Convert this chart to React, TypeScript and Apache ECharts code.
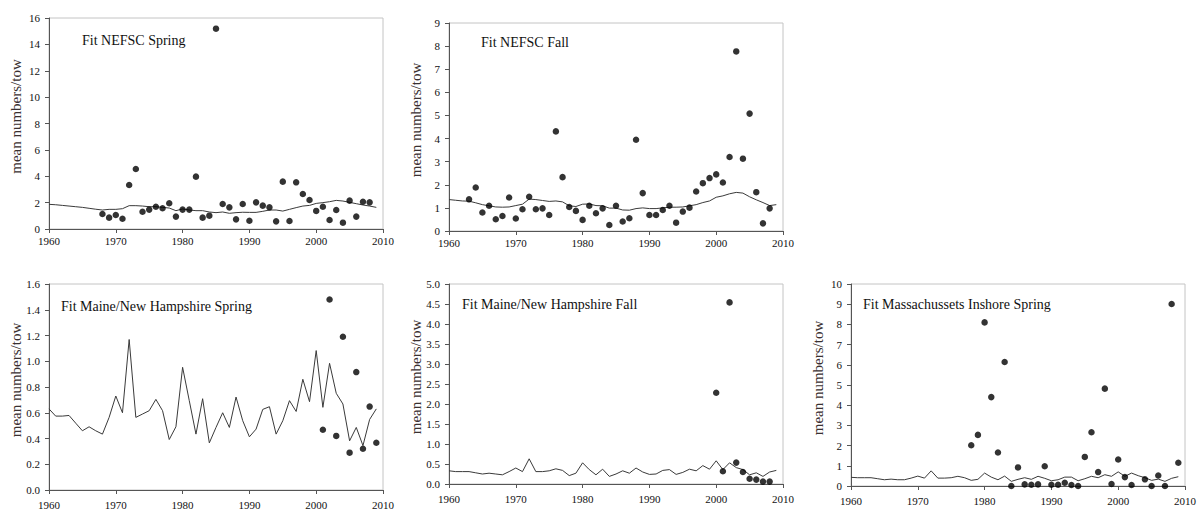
import React, { useEffect, useRef } from "react";
import * as echarts from "echarts";

// Years covered by the model fit lines
const fitYears = [
  1960, 1961, 1962, 1963, 1964, 1965, 1966, 1967, 1968, 1969,
  1970, 1971, 1972, 1973, 1974, 1975, 1976, 1977, 1978, 1979,
  1980, 1981, 1982, 1983, 1984, 1985, 1986, 1987, 1988, 1989,
  1990, 1991, 1992, 1993, 1994, 1995, 1996, 1997, 1998, 1999,
  2000, 2001, 2002, 2003, 2004, 2005, 2006, 2007, 2008, 2009,
];

// NEFSC spring survey
const nefscSpringFit = [
  1.87, 1.84, 1.79, 1.74, 1.69, 1.64, 1.57, 1.5, 1.44, 1.49,
  1.49, 1.54, 1.77, 1.77, 1.74, 1.69, 1.69, 1.64, 1.59, 1.39,
  1.52, 1.44, 1.39, 1.39, 1.29, 1.24, 1.29, 1.19, 1.24, 1.27,
  1.26, 1.26, 1.34, 1.44, 1.44, 1.36, 1.49, 1.62, 1.74, 1.79,
  1.94, 2.0, 2.07, 2.17, 2.12, 2.02, 1.92, 1.82, 1.74, 1.64,
];
const nefscSpringObsYears = [
  1968, 1969, 1970, 1971, 1972, 1973, 1974, 1975, 1976, 1977,
  1978, 1979, 1980, 1981, 1982, 1983, 1984, 1985, 1986, 1987,
  1988, 1989, 1990, 1991, 1992, 1993, 1994, 1995, 1996, 1997,
  1998, 1999, 2000, 2001, 2002, 2003, 2004, 2005, 2006, 2007, 2008,
];
const nefscSpringObs = [
  1.14, 0.86, 1.06, 0.78, 3.34, 4.55, 1.31, 1.47, 1.69, 1.57,
  1.95, 0.94, 1.47, 1.47, 3.97, 0.86, 1.01, 15.19, 1.9, 1.64,
  0.73, 1.9, 0.63, 2.02, 1.77, 1.64, 0.58, 3.59, 0.61, 3.54,
  2.65, 2.2, 1.37, 1.69, 0.68, 1.44, 0.48, 2.15, 0.94, 2.07, 2.02,
];

// NEFSC fall survey
const nefscFallFit = [
  1.36, 1.33, 1.3, 1.29, 1.22, 1.14, 1.09, 1.04, 1.03, 1.04,
  1.1, 1.16, 1.38, 1.36, 1.32, 1.28, 1.3, 1.26, 1.09, 1.06,
  1.16, 1.17, 1.1, 1.09, 0.99, 0.99, 0.91, 0.9, 0.97, 1.0,
  0.97, 0.97, 1.0, 1.03, 1.03, 1.04, 1.09, 1.14, 1.23, 1.3,
  1.46, 1.52, 1.61, 1.67, 1.64, 1.48, 1.35, 1.23, 1.1, 1.14,
];
const nefscFallObsYears = [
  1963, 1964, 1965, 1966, 1967, 1968, 1969, 1970, 1971, 1972,
  1973, 1974, 1975, 1976, 1977, 1978, 1979, 1980, 1981, 1982,
  1983, 1984, 1985, 1986, 1987, 1988, 1989, 1990, 1991, 1992,
  1993, 1994, 1995, 1996, 1997, 1998, 1999, 2000, 2001, 2002,
  2003, 2004, 2005, 2006, 2007, 2008,
];
const nefscFallObs = [
  1.37, 1.88, 0.8, 1.09, 0.51, 0.65, 1.45, 0.54, 0.94, 1.48,
  0.94, 0.98, 0.69, 4.31, 2.33, 1.04, 0.87, 0.48, 1.09, 0.77,
  0.98, 0.26, 1.09, 0.41, 0.55, 3.95, 1.64, 0.69, 0.69, 0.91,
  1.09, 0.36, 0.84, 1.01, 1.71, 2.07, 2.29, 2.45, 2.1, 3.2,
  7.77, 3.13, 5.08, 1.68, 0.33, 0.98,
];

// Maine/New Hampshire spring survey
const mnhSpringFit = [
  0.63, 0.574, 0.574, 0.579, 0.519, 0.46, 0.491, 0.46, 0.434, 0.564,
  0.73, 0.6, 1.169, 0.564, 0.59, 0.616, 0.704, 0.616, 0.392, 0.491,
  0.953, 0.694, 0.434, 0.709, 0.366, 0.486, 0.6, 0.486, 0.722, 0.538,
  0.413, 0.473, 0.626, 0.647, 0.434, 0.538, 0.694, 0.61, 0.86, 0.686,
  1.083, 0.642, 0.984, 0.751, 0.668, 0.382, 0.486, 0.345, 0.548, 0.63,
];
const mnhSpringObsYears = [2001, 2002, 2003, 2004, 2005, 2006, 2007, 2008, 2009];
const mnhSpringObs = [0.468, 1.48, 0.42, 1.19, 0.29, 0.916, 0.32, 0.648, 0.367];

// Maine/New Hampshire fall survey
const mnhFallFit = [
  0.33, 0.31, 0.31, 0.31, 0.28, 0.25, 0.27, 0.25, 0.23, 0.31,
  0.4, 0.31, 0.63, 0.31, 0.31, 0.33, 0.38, 0.34, 0.21, 0.27,
  0.53, 0.36, 0.23, 0.37, 0.19, 0.25, 0.33, 0.27, 0.4, 0.3,
  0.24, 0.25, 0.34, 0.36, 0.24, 0.29, 0.37, 0.33, 0.46, 0.37,
  0.58, 0.36, 0.53, 0.41, 0.36, 0.23, 0.28, 0.19, 0.3, 0.34,
];
const mnhFallObsYears = [2000, 2001, 2002, 2003, 2004, 2005, 2006, 2007, 2008];
const mnhFallObs = [2.28, 0.32, 4.54, 0.535, 0.3, 0.13, 0.11, 0.06, 0.06];

// Massachusetts inshore spring survey
const maSpringFit = [
  0.43, 0.41, 0.41, 0.41, 0.36, 0.31, 0.34, 0.31, 0.31, 0.39,
  0.49, 0.39, 0.75, 0.39, 0.39, 0.41, 0.48, 0.41, 0.28, 0.33,
  0.64, 0.44, 0.31, 0.49, 0.23, 0.33, 0.41, 0.33, 0.48, 0.38,
  0.26, 0.31, 0.44, 0.44, 0.26, 0.36, 0.48, 0.41, 0.56, 0.48,
  0.7, 0.48, 0.64, 0.51, 0.41, 0.28, 0.34, 0.23, 0.38, 0.46,
];
const maSpringObsYears = [
  1978, 1979, 1980, 1981, 1982, 1983, 1984, 1985, 1986, 1987,
  1988, 1989, 1990, 1991, 1992, 1993, 1994, 1995, 1996, 1997,
  1998, 1999, 2000, 2001, 2002, 2004, 2005, 2006, 2007, 2008, 2009,
];
const maSpringObs = [
  2.02, 2.53, 8.1, 4.4, 1.66, 6.14, 0.0, 0.92, 0.08, 0.06,
  0.08, 0.98, 0.06, 0.06, 0.16, 0.05, 0.0, 1.44, 2.66, 0.69,
  4.82, 0.1, 1.31, 0.44, 0.05, 0.33, 0.0, 0.52, 0.0, 9.01, 1.15,
];

const panelTitles = [
  "Fit NEFSC Spring",
  "Fit NEFSC Fall",
  "Fit Maine/New Hampshire Spring",
  "Fit Maine/New Hampshire Fall",
  "Fit Massachussets Inshore Spring",
];
const yMax = [16, 9, 1.6, 5, 10];
const yStep = [2, 1, 0.2, 0.5, 1];
const yDecimals = [0, 0, 1, 1, 0];
const yAxisName = "mean numbers/tow";

const FONT = "'Liberation Serif', 'Times New Roman', serif";

type Panel = {
  grid: { left: number; top: number; width: number; height: number };
  labelMargin: number;
  titlePos: [number, number];
  fit: number[];
  obsYears: number[];
  obs: number[];
};

const panels: Panel[] = [
  {
    grid: { left: 49, top: 18, width: 334, height: 211 },
    labelMargin: 6,
    titlePos: [82, 41],
    fit: nefscSpringFit,
    obsYears: nefscSpringObsYears,
    obs: nefscSpringObs,
  },
  {
    grid: { left: 449, top: 23, width: 334, height: 208 },
    labelMargin: 6,
    titlePos: [481, 43],
    fit: nefscFallFit,
    obsYears: nefscFallObsYears,
    obs: nefscFallObs,
  },
  {
    grid: { left: 49, top: 284, width: 334, height: 206 },
    labelMargin: 9,
    titlePos: [61, 307],
    fit: mnhSpringFit,
    obsYears: mnhSpringObsYears,
    obs: mnhSpringObs,
  },
  {
    grid: { left: 449, top: 284, width: 334, height: 200 },
    labelMargin: 9,
    titlePos: [462, 305],
    fit: mnhFallFit,
    obsYears: mnhFallObsYears,
    obs: mnhFallObs,
  },
  {
    grid: { left: 851, top: 284, width: 337, height: 202 },
    labelMargin: 9,
    titlePos: [863, 305],
    fit: maSpringFit,
    obsYears: maSpringObsYears,
    obs: maSpringObs,
  },
];

function buildOption(): echarts.EChartsOption {
  const grids: any[] = [];
  const xAxes: any[] = [];
  const yAxes: any[] = [];
  const series: any[] = [];
  const graphics: any[] = [];

  panels.forEach((p, i) => {
    grids.push({
      ...p.grid,
      show: true,
      borderColor: "#c4c4c4",
      borderWidth: 1,
      backgroundColor: "transparent",
    });
    xAxes.push({
      type: "value",
      gridIndex: i,
      min: 1960,
      max: 2010,
      interval: 10,
      splitLine: { show: false },
      axisLine: { show: true, onZero: false, lineStyle: { color: "#555", width: 1 } },
      axisTick: { show: true, inside: false, length: 4, lineStyle: { color: "#555" } },
      axisLabel: {
        margin: p.labelMargin,
        color: "#111",
        fontFamily: FONT,
        fontSize: 11,
        formatter: (v: number) => String(v),
      },
    });
    yAxes.push({
      type: "value",
      gridIndex: i,
      min: 0,
      max: yMax[i],
      interval: yStep[i],
      splitLine: { show: false },
      axisLine: { show: true, lineStyle: { color: "#555", width: 1 } },
      axisTick: { show: true, inside: false, length: 4, lineStyle: { color: "#555" } },
      axisLabel: {
        margin: 9,
        color: "#111",
        fontFamily: FONT,
        fontSize: 11,
        formatter: (v: number) => v.toFixed(yDecimals[i]),
      },
    });
    series.push({
      type: "line",
      xAxisIndex: i,
      yAxisIndex: i,
      data: fitYears.map((y, k) => [y, p.fit[k]]),
      showSymbol: false,
      symbol: "none",
      lineStyle: { color: "#3a3a3a", width: 1 },
      z: 2,
    });
    series.push({
      type: "scatter",
      xAxisIndex: i,
      yAxisIndex: i,
      data: p.obsYears.map((y, k) => [y, p.obs[k]]),
      symbol: "circle",
      symbolSize: 6.5,
      itemStyle: { color: "#000" },
      z: 3,
    });
    graphics.push({
      type: "text",
      left: p.titlePos[0],
      top: p.titlePos[1] - 8,
      style: {
        text: panelTitles[i],
        fill: "#111",
        font: `14px ${FONT}`,
      },
    });
    const cy = p.grid.top + p.grid.height / 2 - 7;
    graphics.push({
      type: "text",
      x: p.grid.left - 33,
      y: cy,
      rotation: Math.PI / 2,
      style: {
        text: yAxisName,
        fill: "#3a3030",
        font: `15px ${FONT}`,
        textAlign: "center",
        textVerticalAlign: "middle",
      },
    });
  });

  return {
    animation: false,
    backgroundColor: "#fff",
    grid: grids,
    xAxis: xAxes,
    yAxis: yAxes,
    series,
    graphic: graphics,
  };
}

export default function App() {
  const ref = useRef<HTMLDivElement>(null);
  useEffect(() => {
    if (!ref.current) return;
    const chart = echarts.init(ref.current, undefined, { renderer: "svg" });
    chart.setOption(buildOption());
    return () => chart.dispose();
  }, []);
  return (
    <div
      ref={ref}
      style={{ position: "absolute", left: 0, top: 0, width: 1199, height: 512 }}
    />
  );
}
